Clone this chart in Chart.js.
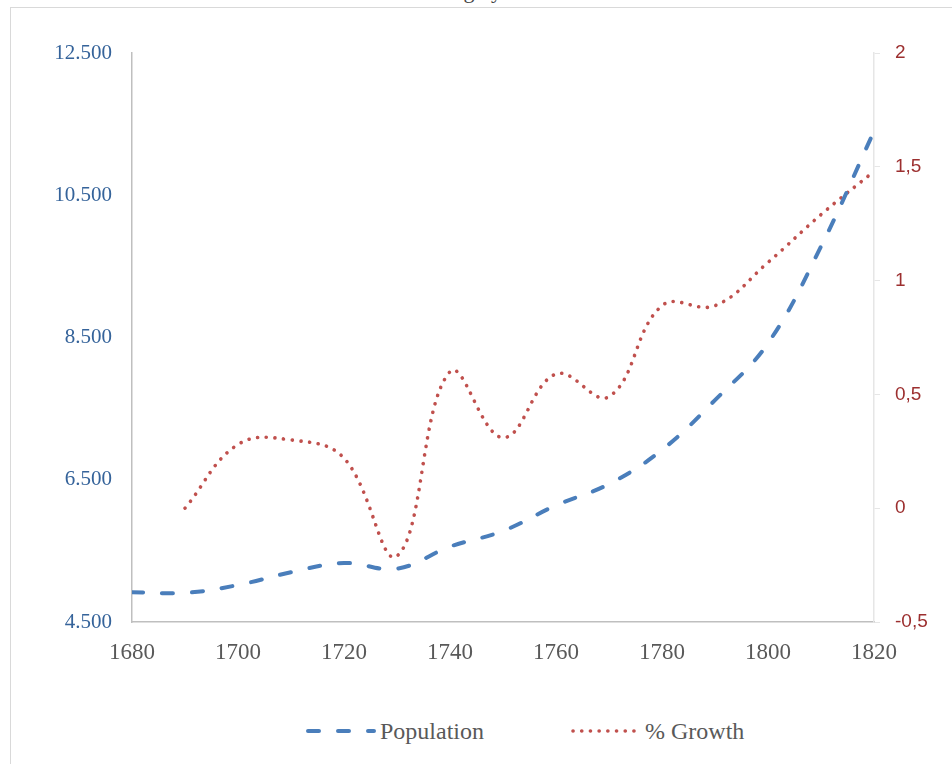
<!DOCTYPE html>
<html>
<head>
<meta charset="utf-8">
<script src="https://cdn.jsdelivr.net/npm/chart.js@4.4.1/dist/chart.umd.min.js"></script>
<style>
  html, body { margin: 0; padding: 0; background: #fff; }
  body { width: 952px; height: 764px; position: relative; overflow: hidden; font-family: "Liberation Serif", "Times New Roman", serif; }
  #frame { position: absolute; left: 10px; top: 7px; width: 1000px; height: 800px; border-left: 1px solid #d9d9d9; border-top: 1px solid #d9d9d9; }
  #title { position: absolute; left: 0; top: -19px; width: 1020px; text-align: center; font-size: 22px; line-height: 20px; color: #444; white-space: nowrap; }
  #chartBox { position: absolute; left: 0; top: 0; width: 952px; height: 700px; }
  #legend { position: absolute; left: 0; top: 716px; width: 952px; height: 30px; font-size: 24px; color: #595959; }
  .item { position: absolute; top: 0; height: 30px; display: flex; align-items: center; }
  .item svg { margin-right: 3px; }
</style>
</head>
<body>
<div id="title">Source: own estimating by the author on historical data</div>
<div id="frame"></div>
<div id="chartBox"><canvas id="chart"></canvas></div>
<div id="legend"></div>
<script>
// --- DADOS ---
const years = [1680, 1690, 1700, 1710, 1720, 1730, 1740, 1750, 1760, 1770, 1780, 1790, 1800, 1810, 1820];
const population = [4920, 4910, 5020, 5200, 5330, 5250, 5560, 5780, 6140, 6440, 6920, 7620, 8420, 9780, 11400];
const growth = [null, 0, 0.28, 0.30, 0.22, -0.21, 0.60, 0.31, 0.59, 0.49, 0.89, 0.89, 1.08, 1.29, 1.48];
const xTicks = [1680, 1700, 1720, 1740, 1760, 1780, 1800, 1820];
const popTicks = [4500, 6500, 8500, 10500, 12500];
const growthTicks = [-0.5, 0, 0.5, 1, 1.5, 2];

const serif = '"Liberation Serif", "Times New Roman", serif';
const sans = '"Liberation Sans", Arial, sans-serif';

const fmtThousands = v => String(v).replace(/\B(?=(\d{3})+(?!\d))/g, '.');
const fmtDecimal = v => String(v).replace('.', ',');

const series = [
    { label: 'Population', values: population, color: '#4a7ebb', width: 4, dash: [11, 19], axis: 'yPop' },
    { label: '% Growth', values: growth, color: '#c0504d', width: 3.6, dash: [0.1, 8.6], axis: 'yGrowth' }
];

const datasets = series.map(s => ({
    label: s.label,
    data: years.map((y, i) => ({ x: y, y: s.values[i] })),
    borderColor: s.color,
    borderWidth: s.width,
    borderDash: s.dash,
    borderCapStyle: 'round',
    fill: false,
    tension: 0.4,
    pointRadius: 0,
    yAxisID: s.axis
}));

new Chart(document.getElementById('chart'), {
    type: 'line',
    data: { datasets },
    options: {
        responsive: true,
        maintainAspectRatio: false,
        animation: false,
        layout: { padding: { top: 53, left: 0, right: 0, bottom: 0 } },
        plugins: { legend: { display: false }, tooltip: { enabled: false } },
        scales: {
            x: {
                type: 'linear',
                min: 1680, max: 1820,
                afterBuildTicks: s => { s.ticks = xTicks.map(v => ({ value: v })); },
                afterFit: s => { s.height = 78; },
                grid: { display: true, drawOnChartArea: false, drawTicks: false, color: '#bfbfbf' },
                border: { color: '#bfbfbf', width: 1.5 },
                ticks: { padding: 17, color: '#595959', maxRotation: 0, autoSkip: false,
                         font: { family: serif, size: 23 }, callback: v => String(v) }
            },
            yPop: {
                position: 'left',
                min: 4500, max: 12500,
                afterBuildTicks: s => { s.ticks = popTicks.map(v => ({ value: v })); },
                afterFit: s => { s.width = 132; },
                grid: { display: true, drawOnChartArea: false, drawTicks: false, color: '#bfbfbf' },
                border: { color: '#bfbfbf', width: 1.5 },
                ticks: { padding: 20, color: '#35639a', font: { family: serif, size: 21 }, callback: fmtThousands }
            },
            yGrowth: {
                position: 'right',
                min: -0.5, max: 2,
                afterBuildTicks: s => { s.ticks = growthTicks.map(v => ({ value: v })); },
                afterFit: s => { s.width = 78; },
                grid: { display: true, drawOnChartArea: false, drawTicks: true, tickLength: 6, color: '#e6e6e6' },
                border: { color: '#e6e6e6', width: 1.5 },
                ticks: { padding: 15, color: '#9c2f2f', font: { family: sans, size: 19 }, callback: fmtDecimal }
            }
        }
    }
});

// --- LEGENDA ---
const legendPos = [305, 570];
const legend = document.getElementById('legend');
series.forEach((s, i) => {
    const el = document.createElement('div');
    el.className = 'item';
    el.style.left = legendPos[i] + 'px';
    el.innerHTML = `
        <svg width="72" height="10"><line x1="3" y1="5" x2="69" y2="5" stroke="${s.color}"
            stroke-width="${s.width}" stroke-linecap="round" stroke-dasharray="${s.dash.join(' ')}"/></svg>
        <span>${s.label}</span>`;
    legend.appendChild(el);
});
</script>
</body>
</html>
